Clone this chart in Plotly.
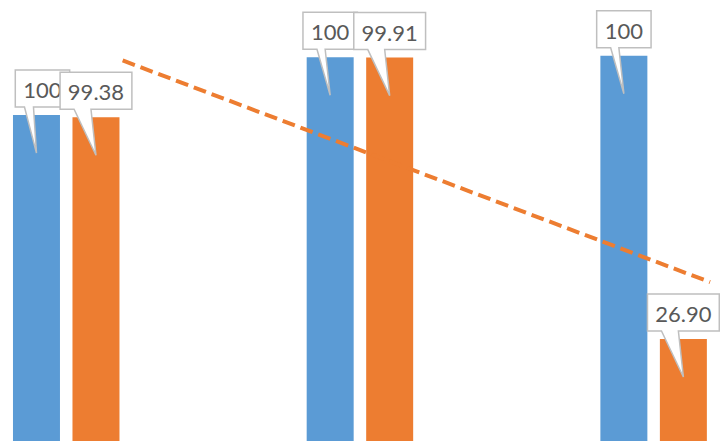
import numpy as np
import plotly.graph_objects as go

# ---- data ----
groups = [0, 1, 2]
blue_values = [84.7, 99.6, 100.0]
orange_values = [84.1, 99.5, 26.9]
blue_labels = ["100", "100", "100"]
orange_labels = ["99.38", "99.91", "26.90"]

# ---- style ----
BLUE = "#5B9BD5"
ORANGE = "#ED7D31"
TEXT = "#595959"
BORDER = "#BFBFBF"
BAR_W = 0.16
BLUE_OFF = -0.1805
ORANGE_OFF = 0.0221
TREND_SHIFT = 0.193
FONT = dict(family="Lato, 'Open Sans', sans-serif", size=22, color=TEXT)
blue_box_shift = [6, 0, 0]
orange_box_shift = [0, 0, 0]

fig = go.Figure()
fig.add_bar(x=groups, y=blue_values, width=BAR_W, offset=BLUE_OFF,
            marker=dict(color=BLUE, line=dict(width=0)), showlegend=False)
fig.add_bar(x=groups, y=orange_values, width=BAR_W, offset=ORANGE_OFF,
            marker=dict(color=ORANGE, line=dict(width=0)), showlegend=False)

# linear trendline of the orange series
slope, intercept = np.polyfit(groups, orange_values, 1)
tx = [g + TREND_SHIFT for g in (groups[0], groups[-1])]
ty = [intercept + slope * g for g in (groups[0], groups[-1])]
fig.add_scatter(x=tx, y=ty, mode="lines", showlegend=False,
                line=dict(color=ORANGE, width=4, dash="13px,6px"))


def text_width(s):
    return sum(5.6 if c == "." else 11.8 for c in s) + 19


def callout(xc, yv, label, shift):
    w = text_width(label)
    L = -w / 2 + shift
    R = w / 2 + shift
    b, t = 8, 45
    wl = min(L + 14, -12)
    wr = wl + 9 if shift else -5
    path = (f"M{L},{b} L{wl},{b} L0,-38 L{wr},{b} L{R},{b} "
            f"L{R},{t} L{L},{t} Z")
    fig.add_shape(type="path", xsizemode="pixel", ysizemode="pixel",
                  xanchor=xc, yanchor=yv, xref="x", yref="y", path=path,
                  fillcolor="white", line=dict(color=BORDER, width=1.5),
                  layer="above",
                  label=dict(text=label, font=FONT, textposition="top center",
                             padding=6))


for g, v, lab, s in zip(groups, blue_values, blue_labels, blue_box_shift):
    callout(g + BLUE_OFF + BAR_W / 2, v, lab, s)
for g, v, lab, s in zip(groups, orange_values, orange_labels, orange_box_shift):
    callout(g + ORANGE_OFF + BAR_W / 2, v, lab, s)

fig.update_layout(
    width=720, height=441,
    margin=dict(l=0, r=0, t=0, b=0),
    paper_bgcolor="white", plot_bgcolor="white",
    xaxis=dict(range=[-0.2247, 2.2268], visible=False, fixedrange=True),
    yaxis=dict(range=[0.57, 114.37], visible=False, fixedrange=True),
    showlegend=False,
)
fig.write_html("out.html",
               config={"displayModeBar": False, "staticPlot": True},
               post_script="document.body.style.margin='0';"
                           "document.body.style.overflow='hidden';")
